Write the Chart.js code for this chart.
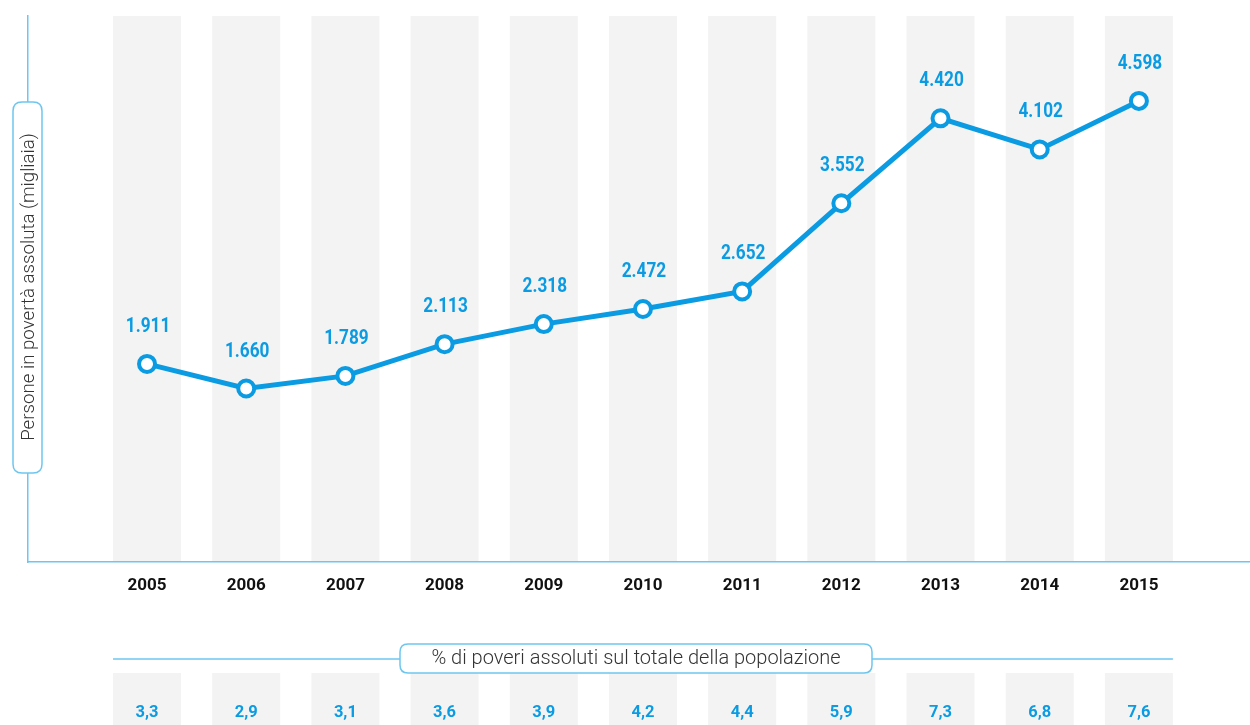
<!DOCTYPE html>
<html>
<head>
<meta charset="utf-8">
<script src="https://cdn.jsdelivr.net/npm/chart.js@4"></script>
<style>
  html, body { margin: 0; padding: 0; background: #fff; }
  canvas { display: block; }
</style>
</head>
<body>
<canvas id="chart" width="1250" height="725"></canvas>
<script>
const years = ['2005', '2006', '2007', '2008', '2009', '2010', '2011', '2012', '2013', '2014', '2015'];
const persone = [1911, 1660, 1789, 2113, 2318, 2472, 2652, 3552, 4420, 4102, 4598];
const percentuali = [3.3, 2.9, 3.1, 3.6, 3.9, 4.2, 4.4, 5.9, 7.3, 6.8, 7.6];

const yTitle = 'Persone in povertà assoluta (migliaia)';
const bottomTitle = '% di poveri assoluti sul totale della popolazione';

const blue = '#0a9be2';
const axisBlue = '#6ec6ef';
const band = '#f3f3f3';

function fmtThousands(v) {
    return String(v).replace(/\B(?=(\d{3})+(?!\d))/g, '.');
}

function roundBox(ctx, x, y, w, h, r) {
    ctx.beginPath();
    ctx.moveTo(x + r, y);
    ctx.lineTo(x + w - r, y);
    ctx.quadraticCurveTo(x + w, y, x + w, y + r);
    ctx.lineTo(x + w, y + h - r);
    ctx.quadraticCurveTo(x + w, y + h, x + w - r, y + h);
    ctx.lineTo(x + r, y + h);
    ctx.quadraticCurveTo(x, y + h, x, y + h - r);
    ctx.lineTo(x, y + r);
    ctx.quadraticCurveTo(x, y, x + r, y);
    ctx.closePath();
    ctx.fillStyle = '#fff';
    ctx.fill();
    ctx.strokeStyle = axisBlue;
    ctx.lineWidth = 1.5;
    ctx.stroke();
}

const decorations = {
    id: 'decorations',
    beforeDraw(chart) {
        const ctx = chart.ctx;
        const x = chart.scales.x;
        const area = chart.chartArea;
        ctx.save();
        ctx.fillStyle = band;
        for (const y of years) {
            const px = x.getPixelForValue(+y);
            ctx.fillRect(px - 34, area.top, 68, area.bottom - area.top);
            ctx.fillRect(px - 34, 673, 68, 725 - 673);
        }
        ctx.restore();
    },
    afterDatasetsDraw(chart) {
        const ctx = chart.ctx;
        const meta = chart.getDatasetMeta(0);
        ctx.save();
        ctx.fillStyle = blue;
        ctx.font = 'bold 20px Roboto';
        ctx.textAlign = 'center';
        ctx.textBaseline = 'middle';
        meta.data.forEach((pt, i) => {
            ctx.setTransform(0.86, 0, 0, 1, pt.x + 1, pt.y - 37);
            ctx.fillText(fmtThousands(persone[i]), 0, 0);
        });
        ctx.restore();
    },
    afterDraw(chart) {
        const ctx = chart.ctx;
        const x = chart.scales.x;
        ctx.save();

        // y axis title box
        roundBox(ctx, 13, 102, 29, 371, 9);
        ctx.translate(29, 287);
        ctx.rotate(-Math.PI / 2);
        ctx.fillStyle = '#333';
        ctx.font = '300 18.7px Roboto';
        ctx.textAlign = 'center';
        ctx.textBaseline = 'middle';
        ctx.fillText(yTitle, 0, 0);
        ctx.setTransform(1, 0, 0, 1, 0, 0);

        // bottom section
        const x0 = x.getPixelForValue(+years[0]) - 34;
        const x1 = x.getPixelForValue(+years[years.length - 1]) + 34;
        ctx.strokeStyle = axisBlue;
        ctx.lineWidth = 1.5;
        ctx.beginPath();
        ctx.moveTo(x0, 659);
        ctx.lineTo(x1, 659);
        ctx.stroke();

        ctx.font = '300 20px Roboto';
        const tw = ctx.measureText(bottomTitle).width;
        const cx = 636;
        const bw = Math.max(tw + 62, 472);
        roundBox(ctx, cx - bw / 2, 644, bw, 29, 8);
        ctx.fillStyle = '#333';
        ctx.textAlign = 'center';
        ctx.textBaseline = 'middle';
        ctx.fillText(bottomTitle, cx, 659);

        ctx.fillStyle = blue;
        ctx.font = 'bold 16.5px Roboto';
        years.forEach((y, i) => {
            const px = x.getPixelForValue(+y);
            ctx.fillText(percentuali[i].toFixed(1).replace('.', ','), px, 713);
        });
        ctx.restore();
    }
};

new Chart(document.getElementById('chart'), {
    type: 'line',
    data: {
        datasets: [{
            data: years.map((y, i) => ({ x: +y, y: persone[i] })),
            borderColor: blue,
            borderWidth: 5,
            pointRadius: 8,
            pointBorderWidth: 4,
            pointBackgroundColor: '#fff',
            pointBorderColor: blue,
            tension: 0
        }]
    },
    options: {
        responsive: false,
        animation: false,
        devicePixelRatio: 1,
        layout: { autoPadding: false, padding: { top: 16, left: 28, right: 0, bottom: 0 } },
        plugins: {
            legend: { display: false },
            tooltip: { enabled: false }
        },
        scales: {
            x: {
                type: 'linear',
                min: 2003.8,
                max: 2016.12,
                afterBuildTicks: (s) => { s.ticks = years.map(y => ({ value: +y })); },
                afterFit: (s) => { s.height = 163; s.paddingLeft = 0; s.paddingRight = 0; },
                ticks: {
                    callback: (v) => String(v),
                    color: '#111',
                    padding: 14,
                    font: { family: 'Roboto', weight: 'bold', size: 17 },
                    maxRotation: 0,
                    autoSkip: false
                },
                grid: { display: false, drawTicks: false },
                border: { display: true, color: axisBlue, width: 1.5 }
            },
            y: {
                min: -112,
                max: 5465,
                afterFit: (s) => { s.width = 0; s.paddingTop = 0; s.paddingBottom = 0; },
                ticks: { display: false },
                grid: { display: false, drawTicks: false },
                border: { display: true, color: axisBlue, width: 1.5 }
            }
        }
    },
    plugins: [decorations]
});
</script>
</body>
</html>
